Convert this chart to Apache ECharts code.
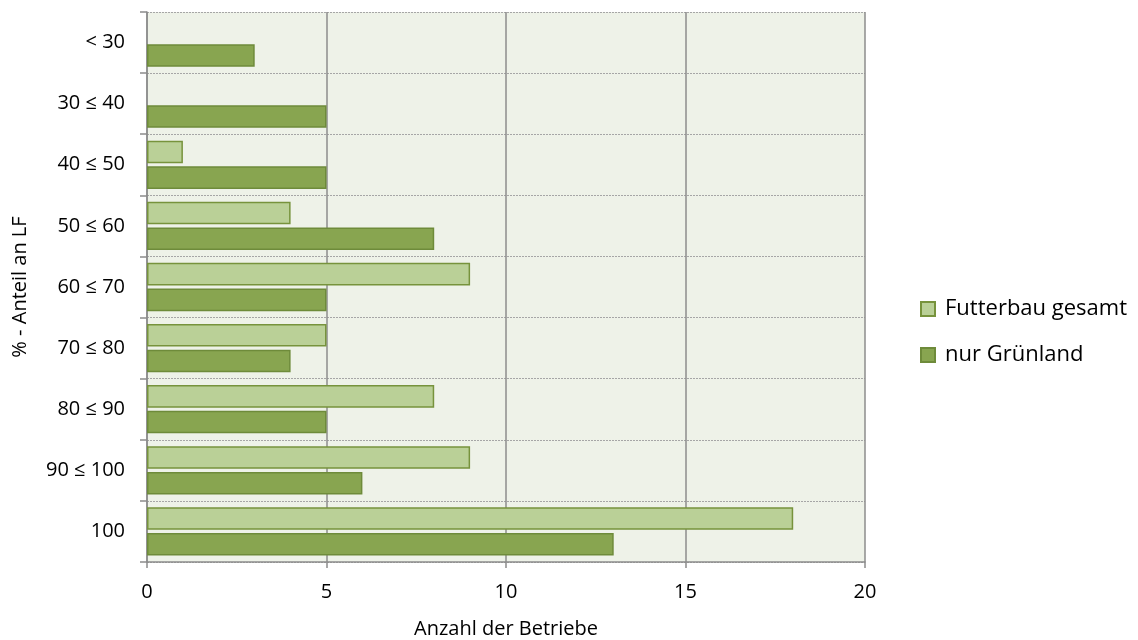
<!DOCTYPE html>
<html>
<head>
<meta charset="utf-8">
<script src="https://cdn.jsdelivr.net/npm/echarts@6/dist/echarts.min.js"></script>
<style>
  html, body { margin: 0; padding: 0; background: #ffffff; }
  #chart { width: 1138px; height: 640px; }
</style>
</head>
<body>
<div id="chart"></div>
<script>
// Share-of-grassland classes (top to bottom)
const categories = ['< 30', '30 ≤ 40', '40 ≤ 50', '50 ≤ 60', '60 ≤ 70', '70 ≤ 80', '80 ≤ 90', '90 ≤ 100', '100'];
// Number of farms per class
const futterbauGesamt = [0, 0, 1, 4, 9, 5, 8, 9, 18];
const nurGruenland = [3, 5, 5, 8, 5, 4, 5, 6, 13];
const xTicks = [0, 5, 10, 15, 20];

const FONT = 'Open Sans';

// Empty classes get no outline, so no hairline is drawn at zero
function barItems(values) {
  return values.map(v => v === 0 ? { value: v, itemStyle: { borderWidth: 0, opacity: 0 } } : v);
}

const chart = echarts.init(document.getElementById('chart'), null, { renderer: 'canvas' });

chart.setOption({
  animation: false,
  backgroundColor: '#ffffff',
  textStyle: { fontFamily: FONT },
  grid: {
    left: 147, right: 273, top: 12, bottom: 78,
    outerBoundsMode: 'none',
    containLabel: false,
    show: true, backgroundColor: '#EEF2E8', borderWidth: 0
  },
  legend: {
    orient: 'vertical',
    left: 915, top: 293,
    itemWidth: 14, itemHeight: 14,
    itemGap: 24,
    icon: 'rect',
    textStyle: { fontFamily: FONT, fontSize: 22, color: '#000', padding: [0, 0, 0, 5] },
    data: ['Futterbau gesamt', 'nur Grünland']
  },
  xAxis: {
    type: 'value',
    min: xTicks[0], max: xTicks[xTicks.length - 1], interval: 5,
    name: 'Anzahl der Betriebe',
    nameLocation: 'middle', nameGap: 57,
    nameTextStyle: { fontFamily: FONT, fontSize: 20, color: '#000' },
    axisLine: { show: true, lineStyle: { color: '#8c8c8c', width: 1.5 } },
    axisTick: { show: true, length: 6, lineStyle: { color: '#8c8c8c', width: 1.5 } },
    axisLabel: { margin: 20, fontFamily: FONT, fontSize: 20, color: '#000' },
    splitLine: { show: true, lineStyle: { color: '#8c8c8c', width: 1.5 } }
  },
  yAxis: {
    type: 'category',
    inverse: true,
    data: categories,
    name: '% - Anteil an LF',
    nameLocation: 'middle', nameGap: 117,
    nameTextStyle: { fontFamily: FONT, fontSize: 20, color: '#000' },
    axisLine: { show: true, lineStyle: { color: '#8c8c8c', width: 1.5 } },
    axisTick: { show: true, length: 7, lineStyle: { color: '#8c8c8c', width: 1.5 } },
    axisLabel: { margin: 22, fontFamily: FONT, fontSize: 20, color: '#000' },
    splitLine: { show: true, lineStyle: { color: '#a6a6a6', width: 1, type: [2, 1] } }
  },
  series: [
    {
      name: 'Futterbau gesamt',
      type: 'bar',
      data: barItems(futterbauGesamt),
      barCategoryGap: '21%',
      barGap: '14%',
      itemStyle: { color: '#BAD097', borderColor: '#77933C', borderWidth: 1.5 }
    },
    {
      name: 'nur Grünland',
      type: 'bar',
      data: barItems(nurGruenland),
      barCategoryGap: '21%',
      barGap: '14%',
      itemStyle: { color: '#88A550', borderColor: '#6E8B3A', borderWidth: 1.5 }
    }
  ]
});
</script>
</body>
</html>
